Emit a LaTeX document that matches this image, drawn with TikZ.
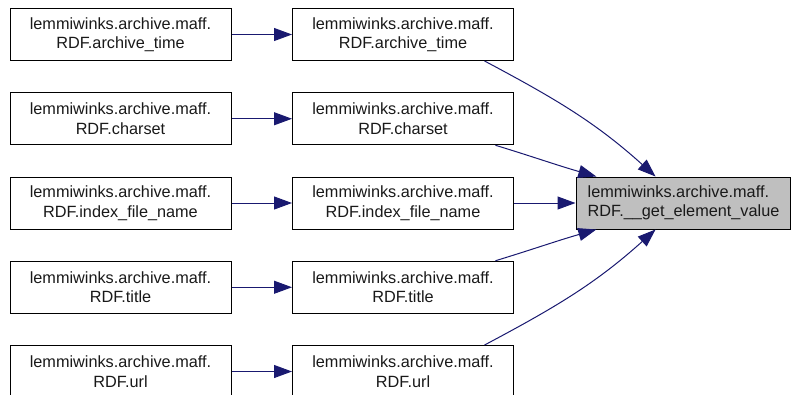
\documentclass[tikz,border=0pt]{standalone}
\usepackage{fontspec}
\setmainfont{Liberation Sans}
\usepackage{xcolor}
\usetikzlibrary{arrows.meta}
\definecolor{edgeblue}{HTML}{191970}
\definecolor{hilite}{HTML}{BFBFBF}
\begin{document}
\begin{tikzpicture}[
  x=0.75pt, y=-0.75pt, font=\fontsize{12.2}{14.6}\selectfont,
  box/.style={draw=black, line width=0.75pt, align=center, inner sep=0pt,
              minimum width=165.75pt, minimum height=39pt, text=black!90},
  hbox/.style={box, fill=hilite, align=left, text width=143pt, inner xsep=8.75pt,
               minimum width=160.5pt},
  flow/.style={-{Triangle[length=13.5pt,width=9.75pt]}, line width=0.75pt, edgeblue}
]
  \useasboundingbox (0,0) rectangle (792,394);
  % callers of the callers
  \node[box] (time1) at (120.5,34.5) {lemmiwinks.archive.maff.\\RDF.archive\_time};
  \node[box] (charset1) at (120.5,118.75) {lemmiwinks.archive.maff.\\RDF.charset};
  \node[box] (index1) at (120.5,203) {lemmiwinks.archive.maff.\\RDF.index\_file\_name};
  \node[box] (title1) at (120.5,287.25) {lemmiwinks.archive.maff.\\RDF.title};
  \node[box] (url1) at (120.5,371.5) {lemmiwinks.archive.maff.\\RDF.url};
  % direct callers
  \node[box] (time2) at (403,34.5) {lemmiwinks.archive.maff.\\RDF.archive\_time};
  \node[box] (charset2) at (403,118.75) {lemmiwinks.archive.maff.\\RDF.charset};
  \node[box] (index2) at (403,203) {lemmiwinks.archive.maff.\\RDF.index\_file\_name};
  \node[box] (title2) at (403,287.25) {lemmiwinks.archive.maff.\\RDF.title};
  \node[box] (url2) at (403,371.5) {lemmiwinks.archive.maff.\\RDF.url};
  % the function itself
  \node[hbox] (getvalue) at (683,203) {lemmiwinks.archive.maff.\\RDF.\_\_get\_element\_value};
  \draw[flow] (time1) -- (time2);
  \draw[flow] (charset1) -- (charset2);
  \draw[flow] (index1) -- (index2);
  \draw[flow] (title1) -- (title2);
  \draw[flow] (url1) -- (url2);
  \draw[flow] (time2.-18) to[out=-28, in=138] (getvalue.136);
  \draw[flow] (charset2.-16) to[out=-17, in=164] (getvalue.163);
  \draw[flow] (index2) -- (getvalue);
  \draw[flow] (title2.16) to[out=17, in=-164] (getvalue.197);
  \draw[flow] (url2.18) to[out=28, in=-138] (getvalue.224);
\end{tikzpicture}
\end{document}
